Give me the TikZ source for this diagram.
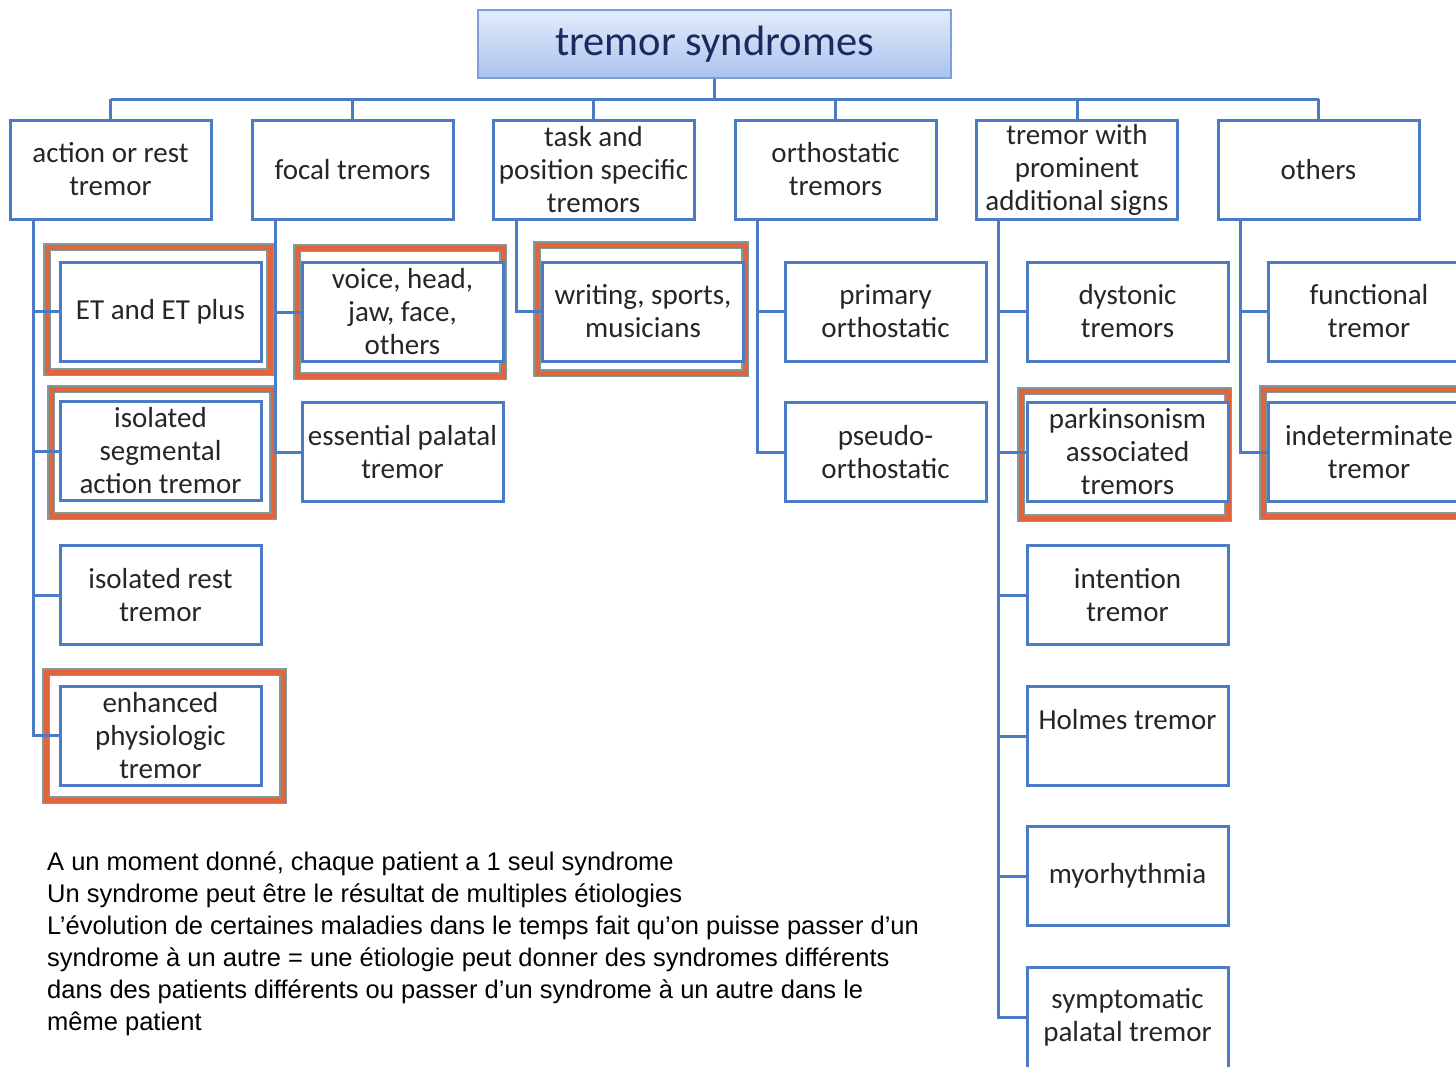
\documentclass[tikz,border=0pt]{standalone}
\usepackage{fontspec}
\setmainfont{Carlito}
\newfontfamily\notefont{Liberation Sans}
\definecolor{bblue}{HTML}{4A7BC4}
\definecolor{tborder}{HTML}{7EA0DA}
\definecolor{ttop}{HTML}{E3ECFA}
\definecolor{tbot}{HTML}{A9C3EE}
\definecolor{navy}{HTML}{1B2A5E}
\definecolor{txt}{HTML}{262626}
\definecolor{hlgray}{HTML}{7F9B9E}
\definecolor{hlorange}{HTML}{E0643C}
\tikzset{
  box/.style={draw=bblue, line width=3pt, fill=white, minimum width=201pt, minimum height=99pt,
    inner sep=0pt, align=center, text=txt, font=\fontsize{29}{33}\selectfont},
  conn/.style={draw=bblue, line width=3pt},
  hlout/.style={draw=hlgray, line width=8.5pt},
  hlin/.style={draw=hlorange, line width=5pt},
}
\newcommand{\hlframe}[2]{\draw[hlout] #1 rectangle #2; \draw[hlin] #1 rectangle #2;}
\begin{document}
\begin{tikzpicture}[x=1pt,y=-1pt]
\useasboundingbox (0,0) rectangle (1456,1066);
\clip (0,0) rectangle (1456,1066);
\fill[white] (0,0) rectangle (1456,1066);
% title
\node[draw=tborder, line width=2pt, top color=ttop, bottom color=tbot, minimum width=473pt, minimum height=68pt,
  text=navy, font=\fontsize{42.5}{48}\selectfont] (title) at (714.5,44) {tremor syndromes};
\coordinate (bus) at (0,99);
% top row
\node[box] (t1) at (110.5,169.5) {action or rest\\tremor};
\node[box] (t2) at (352.5,169.5) {focal tremors};
\node[box] (t3) at (593.5,169.5) {task and\\position specific\\tremors};
\node[box] (t4) at (835.5,169.5) {orthostatic\\tremors};
\node[box] (t5) at (1077,169.5) {tremor with\\prominent\\additional signs};
\node[box] (t6) at (1318.5,169.5) {others};
\draw[conn] (title.south) -- (title.south |- bus);
\draw[conn] (t1.north |- bus) -- (t6.north |- bus);
\foreach \t in {t1,t2,t3,t4,t5,t6} {\draw[conn] (\t.north |- bus) -- (\t.north);}
% highlight frames
\hlframe{(47,247)}{(270,372)}
\hlframe{(51,389)}{(273,516)}
\hlframe{(46,672)}{(283,800)}
\hlframe{(297,248)}{(503,376)}
\hlframe{(537,245)}{(745,373)}
\hlframe{(1021,391)}{(1228,518)}
\hlframe{(1263,389)}{(1470,516)}
% column 1
\node[box] (a1) at (160.5,311.5) {ET and ET plus};
\node[box] (a2) at (160.5,451) {isolated\\segmental\\action tremor};
\node[box] (a3) at (160.5,595) {isolated rest\\tremor};
\node[box] (a4) at (160.5,735.5) {enhanced\\physiologic\\tremor};
% column 2
\node[box] (b1) at (402.5,312) {voice, head,\\jaw, face,\\others};
\node[box] (b2) at (402.5,452) {essential palatal\\tremor};
% column 3
\node[box] (c1) at (643,311.5) {writing, sports,\\musicians};
% column 4
\node[box] (d1) at (885.5,311.5) {primary\\orthostatic};
\node[box] (d2) at (885.5,452) {pseudo-\\orthostatic};
% column 5
\node[box] (e1) at (1127.5,311.5) {dystonic\\tremors};
\node[box] (e2) at (1127.5,452) {parkinsonism\\associated\\tremors};
\node[box] (e3) at (1127.5,595) {intention\\tremor};
\node[box] (e4) at (1127.5,736) {Holmes tremor\\\mbox{}};
\node[box] (e5) at (1127.5,876) {myorhythmia};
\node[box, minimum height=101pt] (e6) at (1127.5,1017.5) {symptomatic\\palatal tremor};
% column 6
\node[box] (f1) at (1369,311.5) {functional\\tremor};
\node[box] (f2) at (1369,452) {indeterminate\\tremor};
% vertical feeders
\coordinate (v1) at (33,219);
\coordinate (v2) at (275,219);
\coordinate (v3) at (516,219);
\coordinate (v4) at (757,219);
\coordinate (v5) at (998,219);
\coordinate (v6) at (1240,219);
\draw[conn] (v1) |- (a4.west);
\foreach \n in {a1,a2,a3} {\draw[conn] (v1 |- \n.west) -- (\n.west);}
\draw[conn] (v2) |- (b2.west);
\draw[conn] (v2 |- b1.west) -- (b1.west);
\draw[conn] (v3) |- (c1.west);
\draw[conn] (v4) |- (d2.west);
\draw[conn] (v4 |- d1.west) -- (d1.west);
\draw[conn] (v5) |- (e6.west);
\foreach \n in {e1,e2,e3,e4,e5} {\draw[conn] (v5 |- \n.west) -- (\n.west);}
\draw[conn] (v6) |- (f2.west);
\draw[conn] (v6 |- f1.west) -- (f1.west);
% note
\node[anchor=north west, inner sep=0pt, align=left, text=black, font=\notefont\fontsize{25.5}{32}\selectfont] (note) at (47,852)
{A un moment donné, chaque patient a 1 seul syndrome\\
Un syndrome peut être le résultat de multiples étiologies\\
L’évolution de certaines maladies dans le temps fait qu’on puisse passer d’un\\
syndrome à un autre = une étiologie peut donner des syndromes différents\\
dans des patients différents ou passer d’un syndrome à un autre dans le\\
même patient};
\end{tikzpicture}
\end{document}
